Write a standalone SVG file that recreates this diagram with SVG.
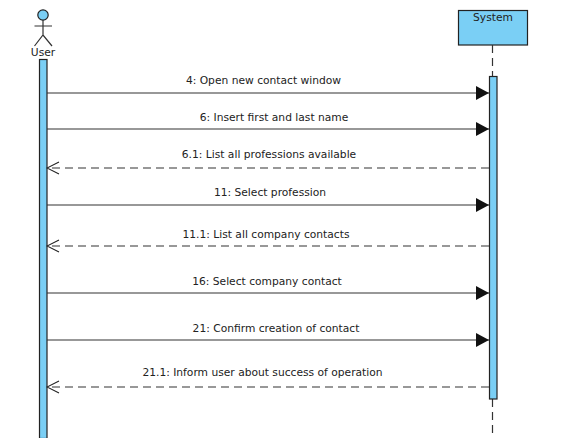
<svg xmlns="http://www.w3.org/2000/svg" width="565" height="438" viewBox="0 0 565 438">
<style>
.f{fill:#7ACFF5;stroke:#222;stroke-width:1.2}
.l{fill:none;stroke:#333;stroke-width:1.2}
.d{stroke-dasharray:8 5}
.t{font-family:"DejaVu Sans",sans-serif;font-size:10.7px;fill:#222;text-anchor:middle}
</style>
<defs>
<marker id="a" markerUnits="userSpaceOnUse" markerWidth="15" markerHeight="16" refX="14" refY="8" orient="auto"><path d="M1 1L14 8L1 15Z" fill="#111"/></marker>
<marker id="o" markerUnits="userSpaceOnUse" markerWidth="14" markerHeight="14" refX="13" refY="7" orient="auto"><path d="M1 1L13 7L1 13" fill="none" stroke="#222" stroke-width="1.1"/></marker>
</defs>
<g id="user">
<circle class="f" cx="43" cy="15" r="5.200"/>
<path class="l" d="M43 20V35M34.500 26H52M34.500 46L43 35L52 46"/>
<text class="t" x="43" y="56">User</text>
<rect class="f" x="39.500" y="59.500" width="7.500" height="379"/>
</g>
<g id="system">
<rect class="f" x="458.500" y="10.500" width="69" height="34.500"/>
<text class="t" x="493" y="21">System</text>
<path class="l d" d="M492.500 45V76M492.500 399V438"/>
<rect class="f" x="489.500" y="76.500" width="7.500" height="322.500"/>
</g>
<g id="connectors">
<path class="l" marker-end="url(#a)" d="M47 93H489"/>
<path class="l" marker-end="url(#a)" d="M47 129H489"/>
<path class="l d" marker-end="url(#o)" d="M489 168H47"/>
<path class="l" marker-end="url(#a)" d="M47 205H489"/>
<path class="l d" marker-end="url(#o)" d="M489 246H47"/>
<path class="l" marker-end="url(#a)" d="M47 293H489"/>
<path class="l" marker-end="url(#a)" d="M47 340H489"/>
<path class="l d" marker-end="url(#o)" d="M489 387H47"/>
</g>
<g id="labels">
<text class="t" x="263.500" y="84">4: Open new contact window</text>
<text class="t" x="274" y="121">6: Insert first and last name</text>
<text class="t" x="269" y="158">6.1: List all professions available</text>
<text class="t" x="270" y="196">11: Select profession</text>
<text class="t" x="266" y="238">11.1: List all company contacts</text>
<text class="t" x="267" y="285">16: Select company contact</text>
<text class="t" x="276" y="332">21: Confirm creation of contact</text>
<text class="t" x="262.500" y="376">21.1: Inform user about success of operation</text>
</g>
</svg>
